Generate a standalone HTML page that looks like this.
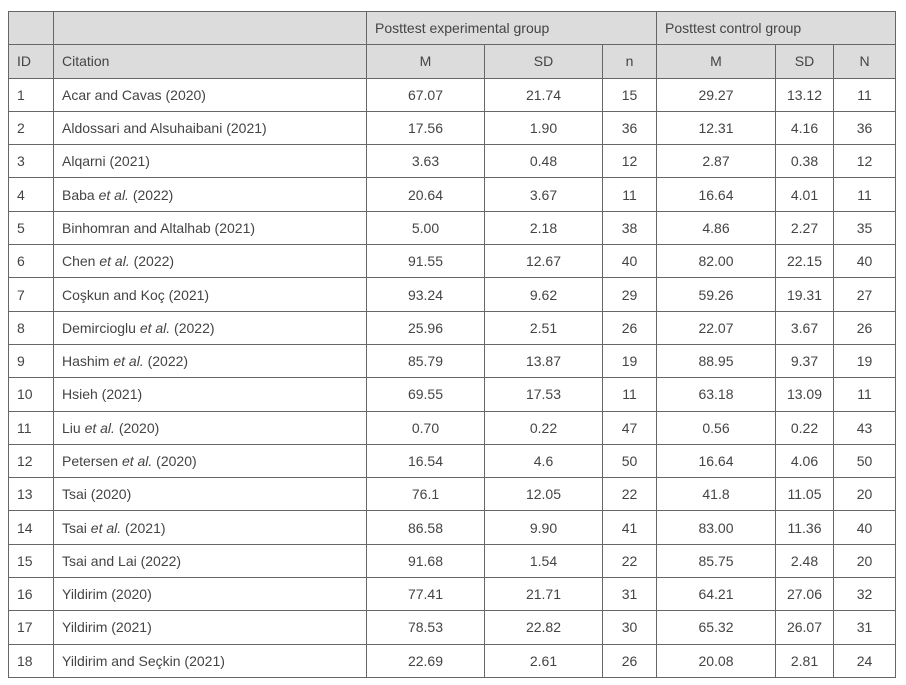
<!DOCTYPE html>
<html><head><style>
body{margin:0;background:#fff;width:906px;height:685px;overflow:hidden}
table{position:absolute;left:8px;top:11px;border-collapse:collapse;font-family:"Liberation Sans",sans-serif;font-size:14px;color:#444;table-layout:fixed}
td{border:1.5px solid #666;padding:0 0 0 8px;height:32.3px;white-space:nowrap}
tr.h td{background:#dcdcdc;height:32.3px}
td.c{text-align:center;padding:0}
</style></head><body>
<table>
<colgroup><col style="width:45px"><col style="width:313px"><col style="width:118px"><col style="width:118px"><col style="width:54px"><col style="width:119px"><col style="width:58px"><col style="width:62px"></colgroup>
<tr class="h"><td></td><td></td><td colspan="3">Posttest experimental group</td><td colspan="3">Posttest control group</td></tr>
<tr class="h"><td>ID</td><td>Citation</td><td class="c">M</td><td class="c">SD</td><td class="c">n</td><td class="c">M</td><td class="c">SD</td><td class="c">N</td></tr>
<tr><td>1</td><td>Acar and Cavas (2020)</td><td class="c">67.07</td><td class="c">21.74</td><td class="c">15</td><td class="c">29.27</td><td class="c">13.12</td><td class="c">11</td></tr>
<tr><td>2</td><td>Aldossari and Alsuhaibani (2021)</td><td class="c">17.56</td><td class="c">1.90</td><td class="c">36</td><td class="c">12.31</td><td class="c">4.16</td><td class="c">36</td></tr>
<tr><td>3</td><td>Alqarni (2021)</td><td class="c">3.63</td><td class="c">0.48</td><td class="c">12</td><td class="c">2.87</td><td class="c">0.38</td><td class="c">12</td></tr>
<tr><td>4</td><td>Baba <i>et al.</i> (2022)</td><td class="c">20.64</td><td class="c">3.67</td><td class="c">11</td><td class="c">16.64</td><td class="c">4.01</td><td class="c">11</td></tr>
<tr><td>5</td><td>Binhomran and Altalhab (2021)</td><td class="c">5.00</td><td class="c">2.18</td><td class="c">38</td><td class="c">4.86</td><td class="c">2.27</td><td class="c">35</td></tr>
<tr><td>6</td><td>Chen <i>et al.</i> (2022)</td><td class="c">91.55</td><td class="c">12.67</td><td class="c">40</td><td class="c">82.00</td><td class="c">22.15</td><td class="c">40</td></tr>
<tr><td>7</td><td>Coşkun and Koç (2021)</td><td class="c">93.24</td><td class="c">9.62</td><td class="c">29</td><td class="c">59.26</td><td class="c">19.31</td><td class="c">27</td></tr>
<tr><td>8</td><td>Demircioglu <i>et al.</i> (2022)</td><td class="c">25.96</td><td class="c">2.51</td><td class="c">26</td><td class="c">22.07</td><td class="c">3.67</td><td class="c">26</td></tr>
<tr><td>9</td><td>Hashim <i>et al.</i> (2022)</td><td class="c">85.79</td><td class="c">13.87</td><td class="c">19</td><td class="c">88.95</td><td class="c">9.37</td><td class="c">19</td></tr>
<tr><td>10</td><td>Hsieh (2021)</td><td class="c">69.55</td><td class="c">17.53</td><td class="c">11</td><td class="c">63.18</td><td class="c">13.09</td><td class="c">11</td></tr>
<tr><td>11</td><td>Liu <i>et al.</i> (2020)</td><td class="c">0.70</td><td class="c">0.22</td><td class="c">47</td><td class="c">0.56</td><td class="c">0.22</td><td class="c">43</td></tr>
<tr><td>12</td><td>Petersen <i>et al.</i> (2020)</td><td class="c">16.54</td><td class="c">4.6</td><td class="c">50</td><td class="c">16.64</td><td class="c">4.06</td><td class="c">50</td></tr>
<tr><td>13</td><td>Tsai (2020)</td><td class="c">76.1</td><td class="c">12.05</td><td class="c">22</td><td class="c">41.8</td><td class="c">11.05</td><td class="c">20</td></tr>
<tr><td>14</td><td>Tsai <i>et al.</i> (2021)</td><td class="c">86.58</td><td class="c">9.90</td><td class="c">41</td><td class="c">83.00</td><td class="c">11.36</td><td class="c">40</td></tr>
<tr><td>15</td><td>Tsai and Lai (2022)</td><td class="c">91.68</td><td class="c">1.54</td><td class="c">22</td><td class="c">85.75</td><td class="c">2.48</td><td class="c">20</td></tr>
<tr><td>16</td><td>Yildirim (2020)</td><td class="c">77.41</td><td class="c">21.71</td><td class="c">31</td><td class="c">64.21</td><td class="c">27.06</td><td class="c">32</td></tr>
<tr><td>17</td><td>Yildirim (2021)</td><td class="c">78.53</td><td class="c">22.82</td><td class="c">30</td><td class="c">65.32</td><td class="c">26.07</td><td class="c">31</td></tr>
<tr><td>18</td><td>Yildirim and Seçkin (2021)</td><td class="c">22.69</td><td class="c">2.61</td><td class="c">26</td><td class="c">20.08</td><td class="c">2.81</td><td class="c">24</td></tr>
</table>
</body></html>
